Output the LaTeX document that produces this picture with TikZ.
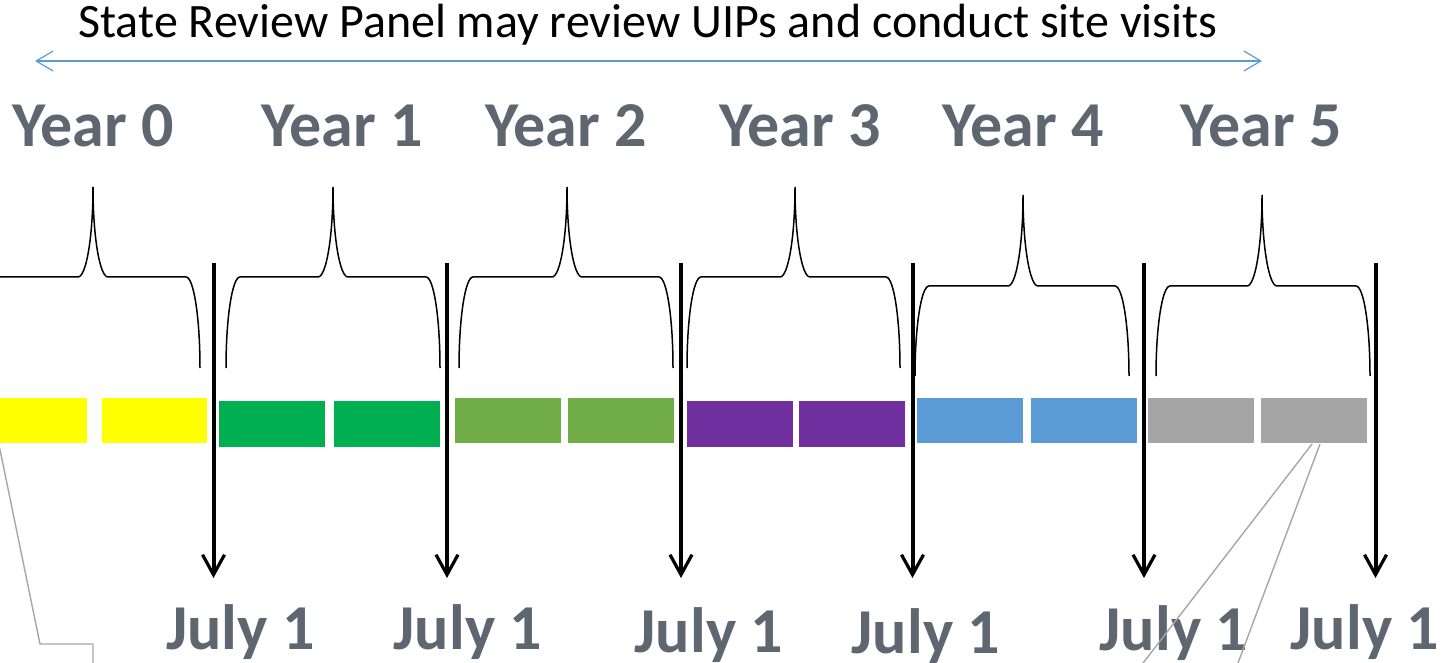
\documentclass[tikz,border=0pt]{standalone}
\usepackage{fontspec}
\setmainfont{Carlito}
\usetikzlibrary{arrows.meta}
\definecolor{txtgrey}{HTML}{5E6670}
\definecolor{arrblue}{HTML}{5B9BD5}
\definecolor{cyellow}{HTML}{FFFF00}
\definecolor{cgreen}{HTML}{00B050}
\definecolor{clgreen}{HTML}{70AD47}
\definecolor{cpurple}{HTML}{7030A0}
\definecolor{cblue}{HTML}{5B9BD5}
\definecolor{cgrey}{HTML}{A5A5A5}
\definecolor{leader}{HTML}{A6A6A6}
\newcommand\tlbrace[6]{% L T R P H B
  \draw[bracestyle] (#1,#6) .. controls (#1,{#6-0.552*(#6-#5)}) and ({#1+0.448*14},#5) .. ({#1+14},#5)
    -- ({#2-15},#5) .. controls ({#2-0.448*15},#5) and (#2,{#4+0.552*(#5-#4)}) .. (#2,#4)
    .. controls (#2,{#4+0.552*(#5-#4)}) and ({#2+0.448*15},#5) .. ({#2+15},#5)
    -- ({#3-14},#5) .. controls ({#3-0.448*14},#5) and (#3,{#6-0.552*(#6-#5)}) .. (#3,#6);}
\newcommand\tlblock[6]{% name x1 y1 x2 y2 color
  \coordinate (#1-a) at (#2,#3);
  \coordinate (#1-b) at (#4,#5);
  \fill[#6] (#1-a) rectangle (#1-b);}
\begin{document}
\begin{tikzpicture}[x=0.5pt,y=-0.5pt,
  yearlbl/.style={font=\fontsize{32pt}{36pt}\selectfont\bfseries, text=txtgrey, inner sep=0pt, anchor=base},
  titlelbl/.style={font=\fontsize{24pt}{28pt}\selectfont, text=black, inner sep=0pt, anchor=base},
  bracestyle/.style={draw=black, line width=0.75pt},
  julyarrow/.style={draw=black, line width=2pt, -{Straight Barb[length=10pt,width=11pt,line width=1.6pt]}},
  spanarrow/.style={draw=arrblue, line width=0.6pt, {Straight Barb[length=8.5pt,width=10pt,line width=0.6pt]}-{Straight Barb[length=8.5pt,width=10pt,line width=0.6pt]}},
  leaderline/.style={draw=leader, line width=0.7pt}]
\useasboundingbox (0,0) rectangle (1446,663);
\clip (0,0) rectangle (1446,663);

% title and span arrow
\node[titlelbl] (title) at (648,38) {State Review Panel may review UIPs and conduct site visits};
\coordinate (spanL) at (35,61);
\coordinate (spanR) at (1262,61);
\draw[spanarrow] (spanL) -- (spanR);

% year labels
\node[yearlbl] (yr0) at (93,147) {Year 0};
\node[yearlbl] (yr1) at (342,147) {Year 1};
\node[yearlbl] (yr2) at (566,147) {Year 2};
\node[yearlbl] (yr3) at (800,147) {Year 3};
\node[yearlbl] (yr4) at (1023,147) {Year 4};
\node[yearlbl] (yr5) at (1261,147) {Year 5};

% braces
\tlbrace{-14}{93}{200}{187}{277}{368}
\tlbrace{226}{333}{440}{187}{277}{368}
\tlbrace{459}{567}{673}{187}{277}{368}
\tlbrace{687}{795}{900}{187}{277}{368}
\tlbrace{915}{1023}{1129}{195}{286}{376}
\tlbrace{1156}{1262}{1370}{195}{286}{376}

% blocks
\tlblock{ya}{0}{398}{87}{443}{cyellow}
\tlblock{yb}{102}{398}{207}{443}{cyellow}
\tlblock{ga}{219}{401}{325}{447}{cgreen}
\tlblock{gb}{334}{401}{440}{447}{cgreen}
\tlblock{la}{455}{398}{561}{443}{clgreen}
\tlblock{lb}{568}{398}{674}{443}{clgreen}
\tlblock{pa}{687}{401}{793}{447}{cpurple}
\tlblock{pb}{799}{401}{905}{447}{cpurple}
\tlblock{ba}{917}{398}{1023}{443}{cblue}
\tlblock{bb}{1031}{398}{1137}{443}{cblue}
\tlblock{ra}{1148}{398}{1254}{443}{cgrey}
\tlblock{rb}{1261}{398}{1367}{443}{cgrey}

% July 1 arrows
\foreach \i/\x in {1/213.5,2/447,3/681,4/912.5,5/1144,6/1375.5}{
  \coordinate (jt\i) at (\x,263);
  \coordinate (jb\i) at (\x,578);
  \draw[julyarrow] (jt\i) -- (jb\i);
}

% July 1 labels
\node[yearlbl] (jl1) at (240.5,649) {July 1};
\node[yearlbl] (jl2) at (468,649) {July 1};
\node[yearlbl] (jl3) at (709,652) {July 1};
\node[yearlbl] (jl4) at (926,653) {July 1};
\node[yearlbl] (jl5) at (1174,650) {July 1};
\node[yearlbl] (jl6) at (1365,649) {July 1};

% leader lines
\coordinate (lA) at (-1.4,443);
\coordinate (lB) at (40,644);
\coordinate (lC) at (93,644);
\coordinate (lD) at (93,680);
\draw[leaderline] (lA) -- (lB) -- (lC) -- (lD);
\coordinate (rA) at (1312,444);
\coordinate (rB) at (1130,680);
\coordinate (rC) at (1320,444);
\coordinate (rD) at (1231.6,680);
\draw[leaderline] (rA) -- (rB);
\draw[leaderline] (rC) -- (rD);
\end{tikzpicture}
\end{document}
